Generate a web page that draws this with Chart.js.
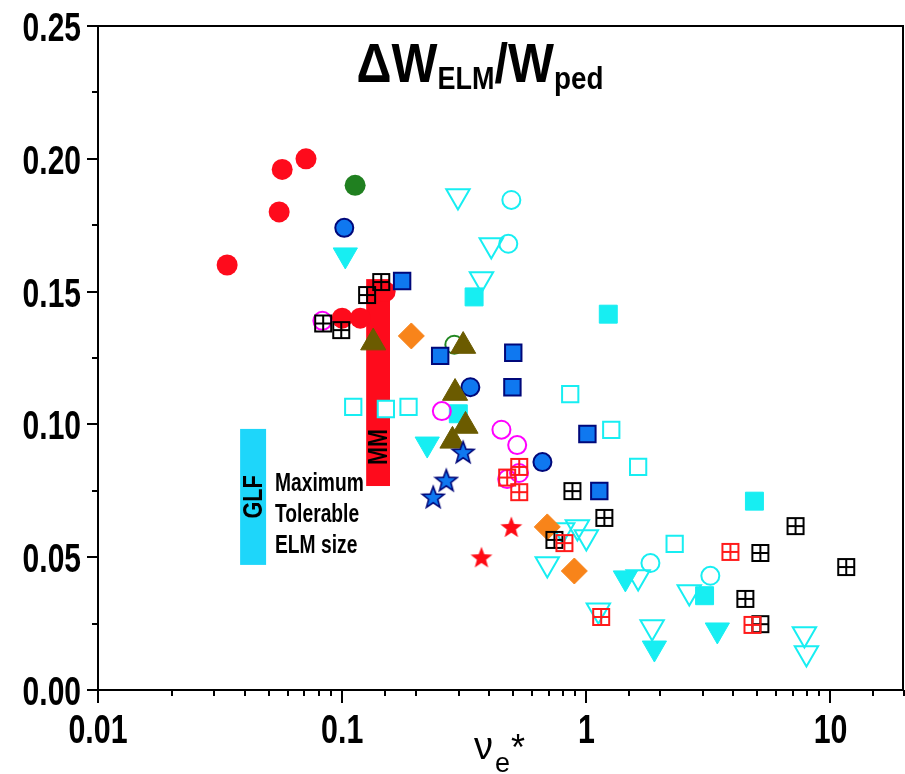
<!DOCTYPE html>
<html>
<head>
<meta charset="utf-8">
<script src="https://cdn.jsdelivr.net/npm/chart.js@4.4.0/dist/chart.umd.min.js"></script>
<style>
  html, body { margin: 0; padding: 0; background: #fff; overflow: hidden; }
  #wrap { width: 905px; height: 774px; }
  canvas { display: block; }
</style>
</head>
<body>
<div id="wrap"><canvas id="chart" width="905" height="774"></canvas></div>
<script>
// ---- data (x = nu_e*, y = dW_ELM / W_ped) ----
const xTickValues = [0.01, 0.1, 1, 10];
const xTickLabels = ['0.01', '0.1', '1', '10'];
const yTickValues = [0, 0.05, 0.1, 0.15, 0.2, 0.25];
const yTickLabels = ['0.00', '0.05', '0.10', '0.15', '0.20', '0.25'];

const redCircleX = [0.0338, 0.0552, 0.0568, 0.0711, 0.100, 0.1186, 0.150];
const redCircleY = [0.160, 0.180, 0.196, 0.200, 0.140, 0.140, 0.150];
const greenCircleX = [0.113];
const greenCircleY = [0.190];
const greenOpenX = [0.288];
const greenOpenY = [0.130];
const blueCircleX = [0.102, 0.335, 0.661];
const blueCircleY = [0.174, 0.114, 0.0858];
const cyanTriFillX = [0.103, 0.223, 1.445, 1.90, 3.44];
const cyanTriFillY = [0.1638, 0.0926, 0.0422, 0.0158, 0.0226];
const cyanTriOpenX = [0.298, 0.408, 0.372, 0.692, 0.80, 0.919, 1.0, 1.63, 1.12, 1.86, 2.64, 7.82, 7.97];
const cyanTriOpenY = [0.186, 0.1675, 0.1547, 0.0474, 0.0602, 0.0614, 0.0576, 0.0425, 0.030, 0.0237, 0.0369, 0.0211, 0.0139];
const cyanCircleX = [0.493, 0.479, 1.83, 3.22];
const cyanCircleY = [0.1845, 0.168, 0.0478, 0.043];
const cyanSqOpenX = [0.111, 0.151, 0.187, 0.859, 1.265, 1.63, 2.30];
const cyanSqOpenY = [0.1066, 0.1058, 0.1066, 0.1114, 0.0979, 0.084, 0.055];
const cyanSqFillX = [0.347, 1.23, 0.299, 4.88, 3.05];
const cyanSqFillY = [0.148, 0.1415, 0.104, 0.0711, 0.0355];
const blueSqX = [0.176, 0.252, 0.502, 0.498, 1.01, 1.13];
const blueSqY = [0.154, 0.1258, 0.127, 0.114, 0.0964, 0.0749];
const blackGridX = [0.0836, 0.0991, 0.1265, 0.1445, 0.877, 1.185, 0.74, 7.19, 5.16, 11.6, 4.48, 5.16];
const blackGridY = [0.138, 0.1355, 0.1487, 0.1536, 0.0749, 0.0648, 0.0565, 0.0617, 0.0516, 0.0463, 0.0343, 0.0248];
const redGridX = [0.531, 0.474, 0.531, 0.813, 1.15, 3.89, 4.79];
const redGridY = [0.084, 0.080, 0.0745, 0.0553, 0.0275, 0.052, 0.0245];
const magentaX = [0.083, 0.256, 0.449, 0.521, 0.474, 0.53];
const magentaY = [0.139, 0.105, 0.098, 0.0922, 0.0794, 0.0817];
const oliveTriX = [0.134, 0.313, 0.290, 0.320, 0.283];
const oliveTriY = [0.1308, 0.1295, 0.1118, 0.0994, 0.0938];
const orangeX = [0.192, 0.692, 0.893];
const orangeY = [0.1333, 0.0614, 0.0448];
const blueStarX = [0.313, 0.267, 0.236];
const blueStarY = [0.0896, 0.079, 0.0727];
const redStarX = [0.493, 0.372];
const redStarY = [0.0614, 0.050];

// shaded bands: GLF limit and MM
const glfX = [0.0382, 0.0488];
const glfY = [0.0471, 0.0983];
const mmX = [0.1254, 0.157];
const mmY = [0.0768, 0.1547];

const SANS = '"Liberation Sans", Arial, sans-serif';

function pts(xs, ys) {
  return xs.map((x, i) => ({ x: x, y: ys[i] }));
}

function gridSquare(color) {
  const c = document.createElement('canvas');
  c.width = 20; c.height = 20;
  const g = c.getContext('2d');
  g.strokeStyle = color;
  g.lineWidth = 2;
  g.strokeRect(2, 2, 16, 16);
  g.beginPath();
  g.moveTo(10, 2); g.lineTo(10, 18);
  g.moveTo(2, 10); g.lineTo(18, 10);
  g.stroke();
  return c;
}

function star(fill, stroke) {
  const c = document.createElement('canvas');
  c.width = 26; c.height = 26;
  const g = c.getContext('2d');
  g.beginPath();
  for (let i = 0; i < 10; i++) {
    const r = i % 2 === 0 ? 11.5 : 4.8;
    const a = -Math.PI / 2 + i * Math.PI / 5;
    const px = 13 + r * Math.cos(a), py = 14 + r * Math.sin(a);
    if (i === 0) g.moveTo(px, py); else g.lineTo(px, py);
  }
  g.closePath();
  g.fillStyle = fill;
  g.fill();
  if (stroke) { g.strokeStyle = stroke; g.lineWidth = 1.6; g.stroke(); }
  return c;
}

const CYAN = '#17eef2';
const NAVY = '#00087a';
const BLUE = '#0f78f0';

const datasets = [
  { data: pts(blueStarX, blueStarY), pointStyle: star(BLUE, NAVY) },
  { data: pts(redStarX, redStarY), pointStyle: star('#ff0a14', null) },
  { data: pts(redGridX, redGridY), pointStyle: gridSquare('#ff1a1a') },
  { data: pts(blackGridX, blackGridY), pointStyle: gridSquare('#000') },
  { data: pts(magentaX, magentaY), pointStyle: 'circle', radius: 9, borderColor: '#ff00ff', backgroundColor: 'rgba(0,0,0,0)', borderWidth: 2 },
  { data: pts(oliveTriX, oliveTriY), pointStyle: 'triangle', radius: 14.5, backgroundColor: '#6b5b00', borderColor: '#6b5b00', borderWidth: 1 },
  { data: pts(orangeX, orangeY), pointStyle: 'rectRot', radius: 13, backgroundColor: '#f8841a', borderColor: '#f8841a', borderWidth: 1 },
  { data: pts(blueSqX, blueSqY), pointStyle: 'rect', radius: 11.6, backgroundColor: BLUE, borderColor: NAVY, borderWidth: 2 },
  { data: pts(blueCircleX, blueCircleY), pointStyle: 'circle', radius: 9, backgroundColor: BLUE, borderColor: NAVY, borderWidth: 2 },
  { data: pts(cyanTriOpenX, cyanTriOpenY), pointStyle: 'triangle', rotation: 180, radius: 13.5, backgroundColor: 'rgba(0,0,0,0)', borderColor: CYAN, borderWidth: 2 },
  { data: pts(cyanTriFillX, cyanTriFillY), pointStyle: 'triangle', rotation: 180, radius: 14, backgroundColor: CYAN, borderColor: CYAN, borderWidth: 1 },
  { data: pts(cyanCircleX, cyanCircleY), pointStyle: 'circle', radius: 9, backgroundColor: 'rgba(0,0,0,0)', borderColor: CYAN, borderWidth: 2 },
  { data: pts(cyanSqOpenX, cyanSqOpenY), pointStyle: 'rect', radius: 11.5, backgroundColor: '#fff', borderColor: CYAN, borderWidth: 2 },
  { data: pts(cyanSqFillX, cyanSqFillY), pointStyle: 'rect', radius: 12.7, backgroundColor: CYAN, borderColor: CYAN, borderWidth: 1 },
  { data: pts(greenOpenX, greenOpenY), pointStyle: 'circle', radius: 9, backgroundColor: 'rgba(0,0,0,0)', borderColor: '#228822', borderWidth: 2 },
  { data: pts(greenCircleX, greenCircleY), pointStyle: 'circle', radius: 10.5, backgroundColor: '#208020', borderColor: '#208020', borderWidth: 0 },
  { data: pts(redCircleX, redCircleY), pointStyle: 'circle', radius: 10.5, backgroundColor: '#fe0b1c', borderColor: '#fe0b1c', borderWidth: 0 }
];

// condensed bold text: Liberation Sans squeezed horizontally
function narrow(ctx, text, x, y, size, align, sx, weight, rot) {
  ctx.save();
  ctx.font = (weight || 'bold') + ' ' + size + 'px ' + SANS;
  ctx.textAlign = align;
  ctx.translate(x, y);
  if (rot) ctx.rotate(rot);
  ctx.scale(sx, 1);
  ctx.fillText(text, 0, 0);
  ctx.restore();
}

function band(ctx, chart, xs, ys, color) {
  const sx = chart.scales.x, sy = chart.scales.y;
  const x0 = sx.getPixelForValue(xs[0]), x1 = sx.getPixelForValue(xs[1]);
  const y0 = sy.getPixelForValue(ys[1]), y1 = sy.getPixelForValue(ys[0]);
  ctx.fillStyle = color;
  ctx.fillRect(x0, y0, x1 - x0, y1 - y0);
  return { cx: (x0 + x1) / 2, top: y0, bottom: y1 };
}

function pieces(ctx, parts, cx, sx) {
  // parts: [text, size, baseline, weight]
  let w = 0;
  parts.forEach(p => {
    ctx.font = p[3] + ' ' + p[1] + 'px ' + SANS;
    w += ctx.measureText(p[0]).width * sx;
  });
  let x = cx - w / 2;
  parts.forEach(p => {
    narrow(ctx, p[0], x, p[2], p[1], 'left', sx, p[3]);
    ctx.font = p[3] + ' ' + p[1] + 'px ' + SANS;
    x += ctx.measureText(p[0]).width * sx;
  });
}

const decor = {
  id: 'decor',
  beforeDatasetsDraw(chart) {
    const ctx = chart.ctx;
    ctx.save();
    ctx.textBaseline = 'middle';
    const g = band(ctx, chart, glfX, glfY, '#1ed6fa');
    const m = band(ctx, chart, mmX, mmY, '#fe0b1c');
    ctx.fillStyle = '#000';
    narrow(ctx, 'GLF', g.cx + 1, 497, 27, 'center', 0.8, 'bold', -Math.PI / 2);
    narrow(ctx, 'MM', m.cx + 1, 447, 27, 'center', 0.8, 'bold', -Math.PI / 2);
    ctx.textBaseline = 'alphabetic';
    narrow(ctx, 'Maximum', 275, 491, 25, 'left', 0.77);
    narrow(ctx, 'Tolerable', 275, 522, 25, 'left', 0.77);
    narrow(ctx, 'ELM size', 275, 553, 25, 'left', 0.77);
    ctx.restore();
  },
  afterDraw(chart) {
    const ctx = chart.ctx;
    const a = chart.chartArea;
    const sx = chart.scales.x, sy = chart.scales.y;
    ctx.save();
    ctx.strokeStyle = '#000';
    ctx.lineWidth = 2;
    ctx.strokeRect(a.left, a.top, a.right - a.left - 1, a.bottom - a.top);
    ctx.beginPath();
    sx.ticks.forEach(t => {
      const major = xTickValues.some(v => Math.abs(v - t.value) / v < 1e-6);
      const px = Math.round(sx.getPixelForValue(t.value));
      ctx.moveTo(px, a.bottom);
      ctx.lineTo(px, a.bottom + (major ? 13 : 6));
    });
    sy.ticks.forEach(t => {
      const major = yTickValues.some(v => Math.abs(v - t.value) < 1e-9);
      const py = Math.round(sy.getPixelForValue(t.value));
      ctx.moveTo(a.left, py);
      ctx.lineTo(a.left - (major ? 11 : 6), py);
    });
    ctx.stroke();

    // tick labels
    ctx.fillStyle = '#000';
    ctx.textBaseline = 'alphabetic';
    xTickValues.forEach((v, i) => {
      narrow(ctx, xTickLabels[i], sx.getPixelForValue(v), 743, 41, 'center', 0.74);
    });
    yTickValues.forEach((v, i) => {
      narrow(ctx, yTickLabels[i], 81, sy.getPixelForValue(v) + 15, 40, 'right', 0.75);
    });

    // title  dW_ELM / W_ped
    pieces(ctx, [
      ['\u0394W', 56, 82, 'bold'],
      ['ELM', 31, 89, 'bold'],
      ['/W', 56, 82, 'bold'],
      ['ped', 32, 89, 'bold']
    ], 480, 0.87);

    // x axis title  nu_e*
    ctx.font = 'normal 38px ' + SANS;
    ctx.textAlign = 'left';
    ctx.fillText('\u03BD', 474, 759);
    ctx.font = 'normal 27px ' + SANS;
    ctx.fillText('e', 495, 772);
    ctx.font = 'normal 36px ' + SANS;
    ctx.fillText('*', 511, 760);
    ctx.restore();
  }
};

new Chart(document.getElementById('chart'), {
  type: 'scatter',
  data: { datasets: datasets },
  options: {
    responsive: false,
    animation: false,
    devicePixelRatio: 1,
    events: [],
    layout: { autoPadding: false, padding: { top: 26, right: 1, left: 0, bottom: 0 } },
    plugins: { legend: { display: false }, tooltip: { enabled: false }, title: { display: false } },
    scales: {
      x: {
        type: 'logarithmic',
        min: 0.01,
        max: 20,
        afterFit(s) { s.height = 84; },
        grid: { display: false, drawTicks: false },
        border: { display: false },
        ticks: { display: false, autoSkip: false }
      },
      y: {
        min: 0,
        max: 0.25,
        afterFit(s) { s.width = 98; },
        grid: { display: false, drawTicks: false },
        border: { display: false },
        ticks: { display: false, stepSize: 0.025, autoSkip: false }
      }
    }
  },
  plugins: [decor]
});
</script>
</body>
</html>
